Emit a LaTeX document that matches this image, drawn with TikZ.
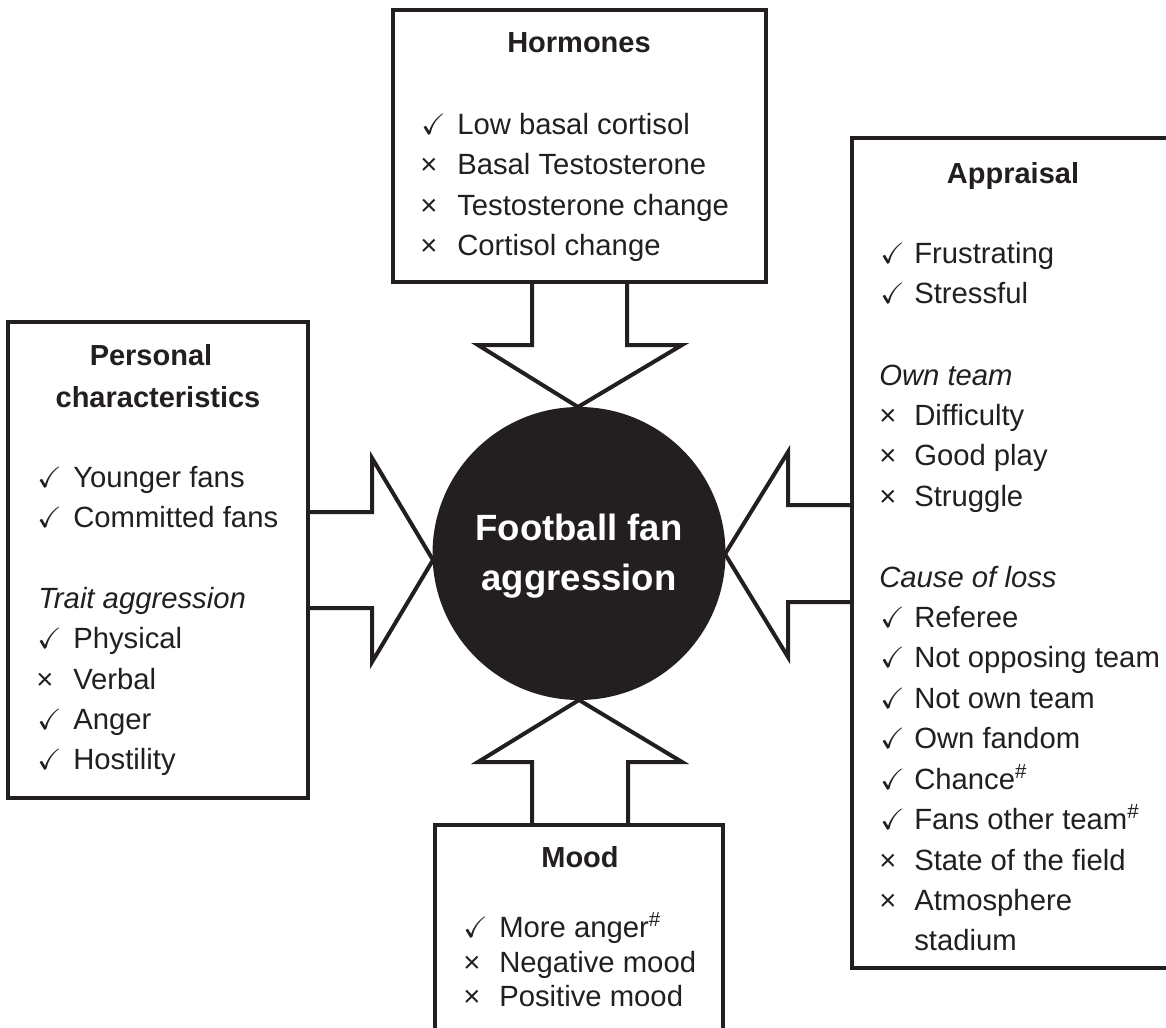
\documentclass[tikz,border=0pt]{standalone}
\usepackage{amssymb}
\usepackage{fontspec}
\setmainfont{Liberation Sans}
\usetikzlibrary{fit}
\definecolor{ink}{HTML}{231F20}
\newcommand{\ck}{$\checkmark$}
\newcommand{\xx}{×}
\begin{document}
\begin{tikzpicture}[x=0.75pt,y=-0.75pt,
  txtfont/.style={font=\fontsize{21.95}{26}\selectfont},
  item/.style={txtfont,anchor=base west,inner sep=0pt,text=ink},
  ttl/.style={font=\fontsize{21.75}{26}\selectfont\bfseries,anchor=base,inner sep=0pt,text=ink},
  sub/.style={item,font=\fontsize{21.95}{26}\selectfont\itshape},
  mk/.style={item},
  frame/.style={draw=ink,line width=3pt,inner sep=0pt,fill=white},
  blockarrow/.style={draw=ink,fill=white,line width=3pt,line join=miter},
  centre/.style={font=\fontsize{27.4}{33}\selectfont\bfseries,text=white,anchor=base,inner sep=0pt}]
\useasboundingbox (0,0) rectangle (1166,1027);
\clip (0,0) rectangle (1166,1027);
\fill[white] (0,0) rectangle (1166,1027);

% anchor coordinates of the boxes
\coordinate (hA) at (393,10);  \coordinate (hB) at (766,282);
\coordinate (pA) at (8,322);   \coordinate (pB) at (308,798);
\coordinate (aA) at (852,138); \coordinate (aB) at (1176,968);
\coordinate (mA) at (435,825); \coordinate (mB) at (723,1040);

% block arrows
\draw[blockarrow] (532,282) -- (532,345) -- (478,345) -- (578,407) -- (682,345) -- (627,345) -- (627,282);
\draw[blockarrow] (308,512) -- (372,512) -- (372,458) -- (433,560) -- (372,662) -- (372,608) -- (308,608);
\draw[blockarrow] (852,505) -- (788,505) -- (788,452) -- (725,554) -- (788,657) -- (788,602) -- (852,602);
\draw[blockarrow] (532,825) -- (532,762) -- (478,762) -- (579,700) -- (682,762) -- (628,762) -- (628,825);

% central circle
\fill[ink] (579,553.5) circle[radius=146.5*0.75pt];
\node[centre] (c1) at (579,540) {Football fan};
\node[centre] (c2) at (579,590) {aggression};

% boxes
\node[frame,fit=(hA)(hB)] (horm) {};
\node[frame,fit=(pA)(pB)] (pers) {};
\node[frame,fit=(aA)(aB)] (appr) {};
\node[frame,fit=(mA)(mB)] (mood) {};

% Hormones
\node[ttl] (ht) at (579,53) {Hormones};
\node[mk] (hm1) at (421,135) {\ck};  \node[item] (h1) at (457,135) {Low basal cortisol};
\node[mk] (hm2) at (420,175) {\xx};  \node[item] (h2) at (457,175) {Basal Testosterone};
\node[mk] (hm3) at (420,215) {\xx};  \node[item] (h3) at (457,215) {Testosterone change};
\node[mk] (hm4) at (420,255) {\xx};  \node[item] (h4) at (457,255) {Cortisol change};

% Personal characteristics
\node[ttl] (pt1) at (151,365) {Personal};
\node[ttl] (pt2) at (158,407) {characteristics};
\node[mk] (pm1) at (37,487) {\ck};  \node[item] (p1) at (73,487) {Younger fans};
\node[mk] (pm2) at (37,527) {\ck};  \node[item] (p2) at (73,527) {Committed fans};
\node[sub] (ps) at (38,608) {Trait aggression};
\node[mk] (pm3) at (37,648) {\ck};  \node[item] (p3) at (73,648) {Physical};
\node[mk] (pm4) at (36,689) {\xx};  \node[item] (p4) at (73,689) {Verbal};
\node[mk] (pm5) at (37,729) {\ck};  \node[item] (p5) at (73,729) {Anger};
\node[mk] (pm6) at (37,769) {\ck};  \node[item] (p6) at (73,769) {Hostility};

% Appraisal
\node[ttl] (at) at (1013,183) {Appraisal};
\node[mk] (am1) at (880,263) {\ck};  \node[item] (a1) at (914,263) {Frustrating};
\node[mk] (am2) at (880,303) {\ck};  \node[item] (a2) at (914,303) {Stressful};
\node[sub] (as1) at (879,385) {Own team};
\node[mk] (am3) at (879,425) {\xx};  \node[item] (a3) at (914,425) {Difficulty};
\node[mk] (am4) at (879,465) {\xx};  \node[item] (a4) at (914,465) {Good play};
\node[mk] (am5) at (879,506) {\xx};  \node[item] (a5) at (914,506) {Struggle};
\node[sub] (as2) at (879,587) {Cause of loss};
\node[mk] (am6) at (880,627) {\ck};  \node[item] (a6) at (914,627) {Referee};
\node[mk] (am7) at (880,667) {\ck};  \node[item] (a7) at (914,667) {Not opposing team};
\node[mk] (am8) at (880,708) {\ck};  \node[item] (a8) at (914,708) {Not own team};
\node[mk] (am9) at (880,748) {\ck};  \node[item] (a9) at (914,748) {Own fandom};
\node[mk] (am10) at (880,789) {\ck}; \node[item] (a10) at (914,789) {Chance\textsuperscript{\#}};
\node[mk] (am11) at (880,829) {\ck}; \node[item] (a11) at (914,829) {Fans other team\textsuperscript{\#}};
\node[mk] (am12) at (879,870) {\xx}; \node[item] (a12) at (914,870) {State of the field};
\node[mk] (am13) at (879,910) {\xx}; \node[item] (a13) at (914,910) {Atmosphere};
\node[item] (a14) at (914,950) {stadium};

% Mood
\node[ttl] (mt) at (580,867) {Mood};
\node[mk] (mm1) at (463,937) {\ck};  \node[item] (m1) at (499,937) {More anger\textsuperscript{\#}};
\node[mk] (mm2) at (463,972) {\xx};  \node[item] (m2) at (499,972) {Negative mood};
\node[mk] (mm3) at (463,1006) {\xx}; \node[item] (m3) at (499,1006) {Positive mood};
\end{tikzpicture}
\end{document}
